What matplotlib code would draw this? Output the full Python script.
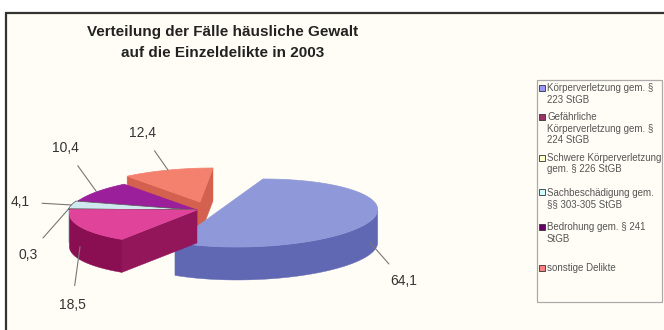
import numpy as np
import matplotlib.pyplot as plt
from matplotlib.patches import Polygon, Rectangle

plt.rcParams['font.family'] = ['Liberation Sans', 'DejaVu Sans']

# data
categories = ['Körperverletzung gem. §\n223 StGB',
              'Gefährliche\nKörperverletzung gem. §\n224 StGB',
              'Schwere Körperverletzung\ngem. § 226 StGB',
              'Sachbeschädigung gem.\n§§ 303-305 StGB',
              'Bedrohung gem. § 241\nStGB',
              'sonstige Delikte']
values = [64.1, 18.5, 0.3, 4.1, 10.4, 12.4]
value_labels = ['64,1', '18,5', '0,3', '4,1', '10,4', '12,4']

# styles
top_col = ['#8f98d9', '#e0449a', '#f6fbfb', '#cfe9ee', '#9b1e9b', '#f4806e']
wall_col = ['#6068b3', '#8a0f52', '#c4caca', '#6d7a7c', '#650f65', '#c75a4c']
face_col = ['#6b73bd', '#93155a', '#d8dede', '#8a9a9c', '#7a157a', '#d4604f']
edge_col = ['#8f98d9', '#e0449a', '#555555', '#555555', '#9b1e9b', '#f4806e']
legend_col = ['#9999ff', '#993366', '#ffffcc', '#ccffff', '#660066', '#ff8080']
shift = [(53, 3), (0, 0), (-2, 0), (-2, 0), (0, 0), (3, -8)]   # explode, px
label_pos = [(404, 281), (72, 305), (28, 255), (20, 202), (65, 148), (142, 133)]

cx, cy = 197, 210
rx, ry, depth, shear = 127, 34, 33, 13
start = 90.0

fig = plt.figure(figsize=(6.64, 3.30), dpi=100)
fig.patch.set_facecolor('white')
ax = fig.add_axes([0, 0, 1, 1])
ax.set_xlim(0, 664)
ax.set_ylim(330, 0)
ax.axis('off')

# chart frame
ax.add_patch(Rectangle((6, 13), 700, 400, fc='#fffdf5', ec='#333333', lw=1.6, zorder=0))

ax.text(223, 32, 'Verteilung der Fälle häusliche Gewalt', ha='center', va='center',
        fontsize=11, fontweight='bold', color='#222222')
ax.text(223, 53, 'auf die Einzeldelikte in 2003', ha='center', va='center',
        fontsize=11, fontweight='bold', color='#222222')


def proj(t, r, off, z):
    u = r * np.cos(np.radians(t))
    v = r * np.sin(np.radians(t))
    return cx + off[0] + rx * u + shear * v, cy + off[1] - ry * v + depth * z


vals = np.array(values)
spans = 360 * vals / vals.sum()
ends = start - np.cumsum(spans)
starts = ends + spans
k = shear / rx

order = sorted(range(len(vals)),
               key=lambda i: -np.sin(np.radians((starts[i] + ends[i]) / 2)))
zz = 2
for i in order:
    a, b, off = starts[i], ends[i], shift[i]
    t = np.linspace(a, b, max(int(abs(a - b)) * 2, 3))
    apex_t = proj(0, 0, off, 0)
    apex_b = proj(0, 0, off, 1)
    # radial faces
    for ang, vis in ((a, np.cos(np.radians(a)) + k * np.sin(np.radians(a)) < 0),
                     (b, np.cos(np.radians(b)) + k * np.sin(np.radians(b)) > 0)):
        if vis and spans[i] < 180:
            e_t = proj(ang, 1, off, 0)
            e_b = proj(ang, 1, off, 1)
            ax.add_patch(Polygon([apex_t, e_t, e_b, apex_b], closed=True,
                                 fc=face_col[i], ec=face_col[i], lw=0.3, zorder=zz))
            zz += 1
    # outer wall
    rad = np.radians(t)
    mask = np.sin(rad) - k * np.cos(rad) < 0
    if mask.any():
        idx = np.where(mask)[0]
        groups = np.split(idx, np.where(np.diff(idx) > 1)[0] + 1)
        for g in groups:
            tt = t[g]
            xt, yt = proj(tt, 1, off, 0)
            xb, yb = proj(tt, 1, off, 1)
            pts = list(zip(xt, yt)) + list(zip(xb[::-1], yb[::-1]))
            ax.add_patch(Polygon(pts, closed=True, fc=wall_col[i], ec=wall_col[i],
                                 lw=0.3, zorder=zz))
            zz += 1
    # top (large slices drawn convex, as the reference renders them)
    xt, yt = proj(t, 1, off, 0)
    pts = list(zip(xt, yt))
    if spans[i] < 180:
        pts = [apex_t] + pts
    ax.add_patch(Polygon(pts, closed=True, fc=top_col[i], ec=edge_col[i], lw=0.5, zorder=zz))
    zz += 1

# value labels with leader lines
for i in range(len(vals)):
    mid = (starts[i] + ends[i]) / 2
    front = np.sin(np.radians(mid)) < 0
    anchor = proj(mid, 1, shift[i], 0.6 if front else 0)
    ax.annotate(value_labels[i], xy=anchor, xytext=label_pos[i], ha='center', va='center',
                fontsize=10, color='#333333', zorder=50,
                arrowprops=dict(arrowstyle='-', color='#777777', lw=0.8,
                                shrinkA=7, shrinkB=0))

# legend
ax.add_patch(Rectangle((537, 80), 125, 222, fc='#fffdf5', ec='#aaaaaa', lw=0.9, zorder=40))
centers = np.linspace(94, 268, len(categories))
for i, (lab, yc) in enumerate(zip(categories, centers)):
    n = lab.count('\n') + 1
    y0 = yc - (n - 1) * 6
    ax.add_patch(Rectangle((539, y0 - 3), 6, 6, fc=legend_col[i], ec='#333333', lw=0.6, zorder=41))
    ax.text(547, yc, lab, ha='left', va='center', fontsize=7, color='#555555',
            linespacing=1.2, zorder=41)

fig.savefig('out.png', dpi=100)
